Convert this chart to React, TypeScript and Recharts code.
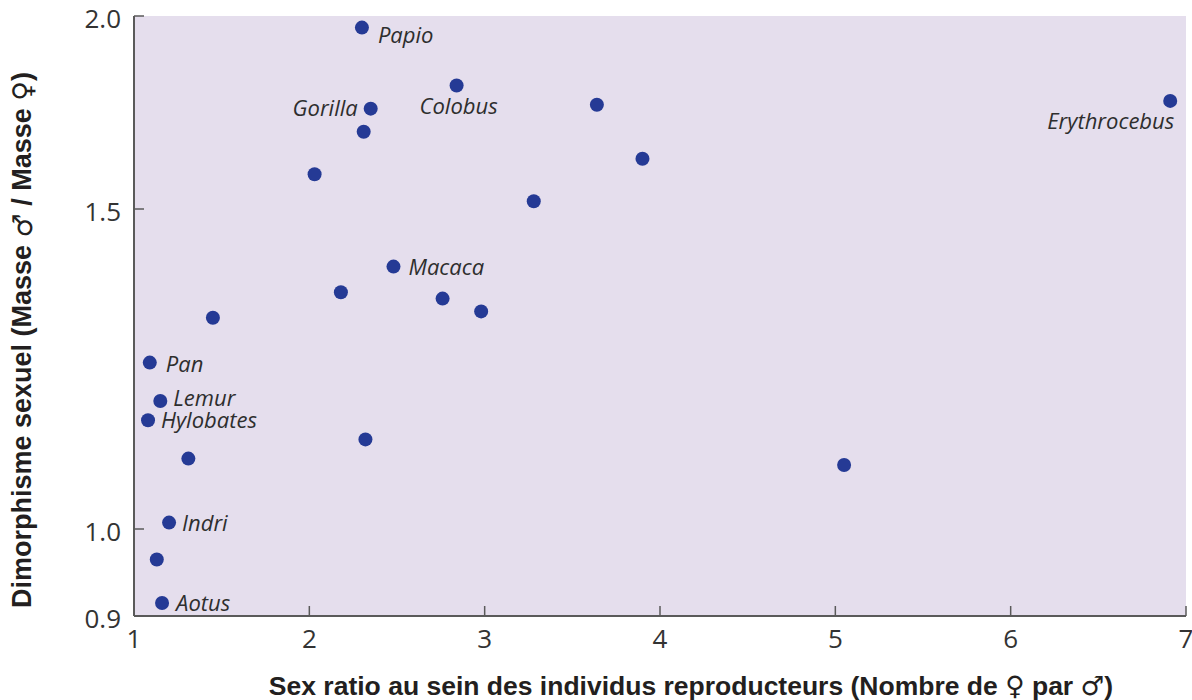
import { ScatterChart, Scatter, XAxis, YAxis, CartesianGrid, Label } from "recharts";

// Espèces de primates (chaîne vide = point sans étiquette)
const species = [
  "Papio", "Gorilla", "", "Colobus", "", "", "Erythrocebus", "", "",
  "Macaca", "", "", "", "", "Pan", "Lemur", "Hylobates", "", "", "",
  "Indri", "", "Aotus",
];

// Sex ratio des reproducteurs (nombre de femelles par mâle)
const sexRatio = [
  2.3, 2.35, 2.31, 2.84, 3.64, 3.9, 6.91, 2.03, 3.28,
  2.48, 2.18, 2.76, 2.98, 1.45, 1.09, 1.15, 1.08, 2.32, 1.31, 5.05,
  1.2, 1.13, 1.16,
];

// Dimorphisme sexuel (masse mâle / masse femelle)
const dimorphism = [
  1.97, 1.76, 1.7, 1.82, 1.77, 1.63, 1.78, 1.59, 1.52,
  1.41, 1.37, 1.36, 1.34, 1.33, 1.26, 1.2, 1.17, 1.14, 1.11, 1.1,
  1.01, 0.965, 0.915,
];

const xTicks = [1, 2, 3, 4, 5, 6, 7];
const yTicks = [0.9, 1.0, 1.5, 2.0];

// L'axe vertical d'origine n'est pas linéaire : position de chaque graduation sur l'axe
const yTickPos = [0, 87, 407, 600];

const warpY = (v: number) => {
  for (let i = 0; i < yTicks.length - 1; i++) {
    if (v <= yTicks[i + 1] || i === yTicks.length - 2) {
      const t = (v - yTicks[i]) / (yTicks[i + 1] - yTicks[i]);
      return yTickPos[i] + t * (yTickPos[i + 1] - yTickPos[i]);
    }
  }
  return 0;
};

// Placement des étiquettes autour des points
const labelPlacement: Record<string, { dx: number; dy: number; anchor: "start" | "middle" | "end" }> = {
  Papio: { dx: 16, dy: 15, anchor: "start" },
  Gorilla: { dx: -13, dy: 7, anchor: "end" },
  Colobus: { dx: 2, dy: 29, anchor: "middle" },
  Erythrocebus: { dx: 4, dy: 28, anchor: "end" },
  Macaca: { dx: 15, dy: 8, anchor: "start" },
  Pan: { dx: 16, dy: 9, anchor: "start" },
  Lemur: { dx: 13, dy: 5, anchor: "start" },
  Hylobates: { dx: 13, dy: 8, anchor: "start" },
  Indri: { dx: 13, dy: 8, anchor: "start" },
  Aotus: { dx: 14, dy: 8, anchor: "start" },
};

const data = species.map((name, i) => ({
  name,
  x: sexRatio[i],
  y: dimorphism[i],
  yw: warpY(dimorphism[i]),
}));

const POINT_COLOR = "#253a95";
const AXIS_COLOR = "#5a5a5a";

// Point + nom de l'espèce en italique
const PrimateDot = (props: any) => {
  const { cx, cy, payload } = props;
  const place = labelPlacement[payload.name];
  return (
    <g>
      <circle cx={cx} cy={cy} r={7} fill={POINT_COLOR} />
      {place && (
        <text
          x={cx + place.dx}
          y={cy + place.dy}
          textAnchor={place.anchor}
          fontFamily="Open Sans"
          fontStyle="italic"
          fontSize={22}
          fill="#2e2e2e"
        >
          {payload.name}
        </text>
      )}
    </g>
  );
};

const symbolStyle = { fontWeight: 400, fontFamily: "DejaVu Sans" };

const YTitle = (props: any) => {
  const { viewBox } = props;
  const x = viewBox.x + 22;
  const y = viewBox.y + viewBox.height / 2 + 24;
  return (
    <text
      x={x}
      y={y}
      transform={`rotate(-90, ${x}, ${y})`}
      textAnchor="middle"
      dominantBaseline="central"
      fontFamily="Liberation Sans"
      fontWeight="bold"
      fontSize={27}
      fill="#231f20"
    >
      Dimorphisme sexuel (Masse <tspan style={symbolStyle}>♂</tspan> / Masse{" "}
      <tspan style={symbolStyle}>♀</tspan>)
    </text>
  );
};

const XTitle = (props: any) => {
  const { viewBox } = props;
  return (
    <text
      x={viewBox.x + viewBox.width / 2 + 31}
      y={viewBox.y + 79}
      textAnchor="middle"
      fontFamily="Liberation Sans"
      fontWeight="bold"
      fontSize={26.5}
      fill="#231f20"
    >
      Sex ratio au sein des individus reproducteurs (Nombre de{" "}
      <tspan style={symbolStyle}>♀</tspan> par <tspan style={symbolStyle}>♂</tspan>)
    </text>
  );
};

const tickStyle = { fill: "#333333", fontSize: 26, fontFamily: "Open Sans" };

export default function App() {
  return (
    <div style={{ position: "absolute", left: 0, top: 0, background: "#ffffff" }}>
      <ScatterChart width={1192} height={700} margin={{ top: 16, right: 6, bottom: 0, left: 0 }}>
        <CartesianGrid horizontal={false} vertical={false} fill="#e5deed" />
        <XAxis
          type="number"
          dataKey="x"
          domain={[1, 7]}
          ticks={xTicks}
          interval={0}
          height={84}
          tick={tickStyle}
          tickSize={-10}
          tickMargin={24}
          tickLine={{ stroke: AXIS_COLOR, strokeWidth: 1.5 }}
          axisLine={{ stroke: AXIS_COLOR, strokeWidth: 2 }}
        >
          <Label content={XTitle} />
        </XAxis>
        <YAxis
          type="number"
          dataKey="yw"
          domain={[yTickPos[0], yTickPos[yTickPos.length - 1]]}
          ticks={yTickPos}
          interval={0}
          width={134}
          tickFormatter={(v: number) => yTicks[yTickPos.indexOf(v)].toFixed(1)}
          tick={{ ...tickStyle, dy: 3 }}
          tickSize={-10}
          tickMargin={23}
          tickLine={{ stroke: AXIS_COLOR, strokeWidth: 1.5 }}
          axisLine={{ stroke: AXIS_COLOR, strokeWidth: 2 }}
        >
          <Label content={YTitle} />
        </YAxis>
        <Scatter data={data} shape={PrimateDot} isAnimationActive={false} />
      </ScatterChart>
    </div>
  );
}
